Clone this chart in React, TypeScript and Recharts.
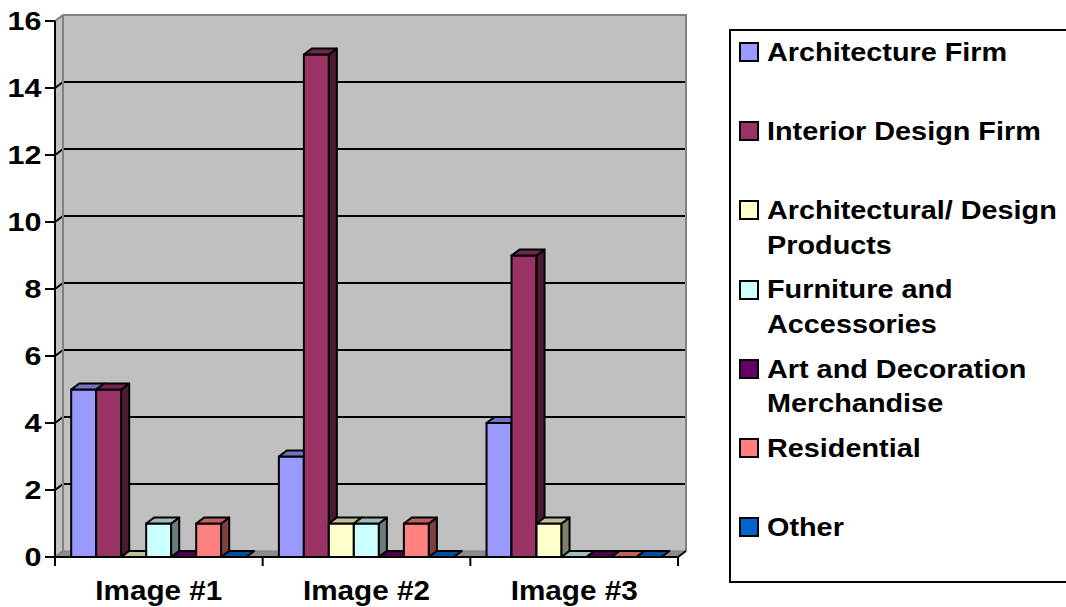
import React from 'react';
import { BarChart, Bar, XAxis, YAxis, ReferenceArea, Legend } from 'recharts';

// Survey responses per image, split by respondent type
const categories = ['Image #1', 'Image #2', 'Image #3'];

const architectureFirm = [5, 3, 4];
const interiorDesignFirm = [5, 15, 9];
const architecturalDesignProducts = [0, 1, 1];
const furnitureAccessories = [1, 1, 0];
const artDecorationMerchandise = [0, 0, 0];
const residential = [1, 1, 0];
const other = [0, 0, 0];

const seriesNames = [
  'Architecture Firm',
  'Interior Design Firm',
  'Architectural/ Design Products',
  'Furniture and Accessories',
  'Art and Decoration Merchandise',
  'Residential',
  'Other',
];

const legendLines = [
  ['Architecture Firm'],
  ['Interior Design Firm'],
  ['Architectural/ Design', 'Products'],
  ['Furniture and', 'Accessories'],
  ['Art and Decoration', 'Merchandise'],
  ['Residential'],
  ['Other'],
];

const yTicks = [0, 2, 4, 6, 8, 10, 12, 14, 16];

const seriesValues = [
  architectureFirm,
  interiorDesignFirm,
  architecturalDesignProducts,
  furnitureAccessories,
  artDecorationMerchandise,
  residential,
  other,
];

const seriesColors = ['#9999FF', '#993366', '#FFFFCC', '#CCFFFF', '#660066', '#FF8080', '#0066CC'];

const data = categories.map((name, i) => {
  const row: Record<string, string | number> = { name };
  seriesNames.forEach((s, k) => {
    row[s] = seriesValues[k][i];
  });
  return row;
});

const FONT = '"Liberation Sans", Arial, Helvetica, sans-serif';
const DX = 8; // depth offset to the right
const DY = 6; // depth offset upwards
const Y_MAX = yTicks[yTicks.length - 1];

const shade = (hex: string, f: number) => {
  const n = parseInt(hex.slice(1), 16);
  const r = Math.round(((n >> 16) & 255) * f);
  const g = Math.round(((n >> 8) & 255) * f);
  const b = Math.round((n & 255) * f);
  return `rgb(${r},${g},${b})`;
};

const makeBarShape = (front: string) => (props: any) => {
  const { x, y, width } = props;
  const h = Math.max(0, props.height || 0);
  const top = shade(front, 0.75);
  const side = shade(front, 0.5);
  const w = width;
  const stroke = { stroke: '#000', strokeWidth: 2, strokeLinejoin: 'round' as const };
  return (
    <g>
      {h > 0 && <rect x={x} y={y} width={w} height={h} fill={front} {...stroke} />}
      {h > 0 && (
        <polygon
          points={`${x + w},${y} ${x + w + DX},${y - DY} ${x + w + DX},${y + h - DY} ${x + w},${y + h}`}
          fill={side}
          {...stroke}
        />
      )}
      <polygon
        points={`${x},${y} ${x + DX},${y - DY} ${x + w + DX},${y - DY} ${x + w},${y}`}
        fill={top}
        {...stroke}
      />
    </g>
  );
};

// Back wall, left side wall, floor and gridlines of the 3D plot box
const WallShape = (props: any) => {
  const { x, y, width, height } = props;
  const yOf = (v: number) => y + height * (1 - v / Y_MAX);
  const x0 = x;
  const x1 = x + width;
  const yTop = yOf(Y_MAX);
  const yBot = yOf(0);
  const edge = '#808080';
  return (
    <g>
      <polygon
        points={`${x0 + DX},${yTop - DY} ${x1 + DX},${yTop - DY} ${x1 + DX},${yBot - DY} ${x0 + DX},${yBot - DY}`}
        fill="#C0C0C0"
      />
      <polygon
        points={`${x0},${yTop} ${x0 + DX},${yTop - DY} ${x0 + DX},${yBot - DY} ${x0},${yBot}`}
        fill="#C0C0C0"
      />
      <polygon
        points={`${x0},${yBot} ${x1},${yBot} ${x1 + DX},${yBot - DY} ${x0 + DX},${yBot - DY}`}
        fill="#8C8C8C"
        stroke={edge}
        strokeWidth={1}
      />
      {yTicks
        .filter((v) => v > 0 && v < Y_MAX)
        .map((v) => (
          <g key={v}>
            <line x1={x0} y1={yOf(v)} x2={x0 + DX} y2={yOf(v) - DY} stroke="#000" strokeWidth={2} />
            <line x1={x0 + DX} y1={yOf(v) - DY} x2={x1 + DX} y2={yOf(v) - DY} stroke="#000" strokeWidth={2} />
          </g>
        ))}
      <polyline
        points={`${x0},${yTop} ${x0 + DX},${yTop - DY} ${x1 + DX},${yTop - DY} ${x1 + DX},${yBot - DY}`}
        fill="none"
        stroke={edge}
        strokeWidth={2}
      />
      <line x1={x0 + DX} y1={yTop - DY} x2={x0 + DX} y2={yBot - DY} stroke={edge} strokeWidth={2} />
      <line x1={x0} y1={yBot} x2={x0 + DX} y2={yBot - DY} stroke={edge} strokeWidth={2} />
      <line x1={x1} y1={yBot} x2={x1 + DX} y2={yBot - DY} stroke="#000" strokeWidth={2} />
    </g>
  );
};

const YTick = (props: any) => {
  const { x, y, payload } = props;
  return (
    <g transform={`translate(${x},${y}) scale(1.22,1)`}>
      <text x={0} y={0} dy="0.36em" textAnchor="end" fontFamily={FONT} fontSize={25} fontWeight={700} fill="#000">
        {payload.value}
      </text>
    </g>
  );
};

const XTick = (props: any) => {
  const { x, y, payload, index } = props;
  const half = payload.offset || 0;
  const last = index === categories.length - 1;
  return (
    <g>
      <line x1={x - half} y1={y} x2={x - half} y2={y + 9} stroke="#000" strokeWidth={2} />
      {last && <line x1={x + half} y1={y} x2={x + half} y2={y + 9} stroke="#000" strokeWidth={2} />}
      <g transform={`translate(${x},${y + 43}) scale(1.06,1)`}>
        <text x={0} y={0} textAnchor="middle" fontFamily={FONT} fontSize={28} fontWeight={700} fill="#000">
          {payload.value}
        </text>
      </g>
    </g>
  );
};

// Legend drawn in series order, with the wrapped label lines
const LegendBox = () => {
  const LH = 34.5;
  return (
    <div
      style={{
        position: 'relative',
        width: 340,
        height: 554,
        border: '2px solid #000',
        boxSizing: 'border-box',
        background: '#fff',
        fontFamily: FONT,
        fontWeight: 700,
        fontSize: 25.5,
        color: '#000',
      }}
    >
      {seriesNames.map((name, i) => (
        <div key={name} style={{ position: 'absolute', left: 0, top: 21 + i * 79.2 - LH / 2, width: 330 }}>
          <div
            style={{
              position: 'absolute',
              left: 8,
              top: (LH - 20) / 2,
              width: 20,
              height: 20,
              boxSizing: 'border-box',
              border: '2px solid #000',
              background: seriesColors[i],
            }}
          />
          {legendLines[i].map((ln, k) => (
            <div
              key={k}
              style={{
                position: 'absolute',
                left: 36,
                top: k * LH,
                height: LH,
                lineHeight: `${LH}px`,
                whiteSpace: 'nowrap',
                transform: 'scaleX(1.13)',
                transformOrigin: 'left center',
              }}
            >
              {ln}
            </div>
          ))}
        </div>
      ))}
    </div>
  );
};

export default function App() {
  return (
    <div style={{ position: 'absolute', left: 0, top: 0, width: 1066, height: 607, overflow: 'hidden', background: '#fff' }}>
      <BarChart
        width={1066}
        height={607}
        data={data}
        margin={{ top: 21, right: 388, bottom: 0, left: 0 }}
        barCategoryGap="7.8%"
        barGap={0}
      >
        <ReferenceArea y1={0} y2={Y_MAX} shape={WallShape} zIndex={-10} ifOverflow="visible" />
        <XAxis
          dataKey="name"
          height={50}
          tickLine={false}
          tickSize={0}
          tickMargin={0}
          axisLine={{ stroke: '#000', strokeWidth: 2 }}
          tick={XTick}
          interval={0}
        />
        <YAxis
          width={55}
          domain={[0, Y_MAX]}
          ticks={yTicks}
          interval={0}
          tickSize={10}
          tickMargin={3.5}
          tickLine={{ stroke: '#000', strokeWidth: 2 }}
          axisLine={{ stroke: '#000', strokeWidth: 2 }}
          tick={YTick}
        />
        <Legend
          layout="vertical"
          align="center"
          verticalAlign="middle"
          wrapperStyle={{ left: 729, top: 29, width: 340, height: 554 }}
          content={LegendBox}
        />
        {seriesNames.map((s, k) => (
          <Bar
            key={s}
            dataKey={s}
            name={s}
            fill={seriesColors[k]}
            isAnimationActive={false}
            shape={makeBarShape(seriesColors[k])}
          />
        ))}
      </BarChart>
    </div>
  );
}
